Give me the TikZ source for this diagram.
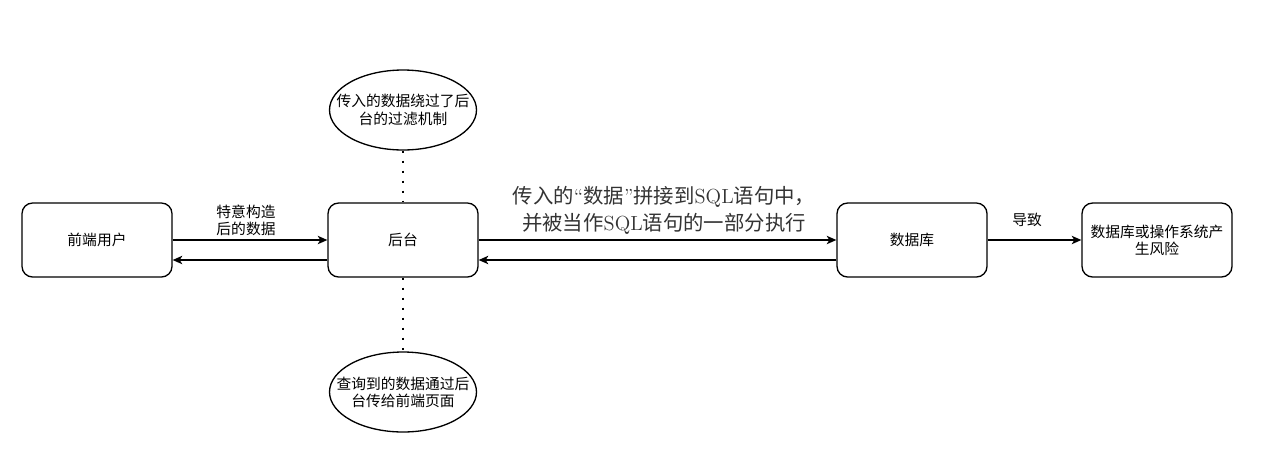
\documentclass[tikz,border=0pt]{standalone}
\usepackage{fontspec}
\newfontfamily\cjk{Noto Sans CJK SC}
\usetikzlibrary{shapes.geometric, arrows.meta}

\tikzstyle{mainblock} = [rectangle, rounded corners=6pt, minimum width=3cm, minimum height=1.48cm, text centered, align=center, draw=black, line width=0.75pt, font=\cjk\fontsize{8.4}{9.8}\selectfont]
\tikzstyle{noteblock} = [ellipse, minimum width=2.94cm, minimum height=1.6cm, inner xsep=-0.3cm, inner ysep=0pt, align=center, draw=black, line width=0.75pt, font=\cjk\fontsize{8.4}{9.8}\selectfont]
\tikzstyle{flow} = [->, >={Stealth[length=5.5pt, width=4.8pt, inset=1.5pt]}, draw=black, line width=0.75pt]
\tikzstyle{dotline} = [-, draw=black, line width=1.4pt, dash pattern=on 1.4pt off 4.3pt]
\tikzstyle{flowlabel} = [align=center, font=\cjk\fontsize{8.4}{9.8}\selectfont]

\begin{document}
\begin{tikzpicture}[x=0.02cm, y=-0.02cm]
    \useasboundingbox (0,0) rectangle (1264,464);

    \node (user) [mainblock] at (97,240) {前端用户};
    \node (server) [mainblock] at (403,240) {后台};
    \node (db) [mainblock] at (912,240) {数据库};
    \node (risk) [mainblock] at (1157,240) {数据库或操作系统产\\生风险};

    \node (bypass) [noteblock] at (403,110) {传入的数据绕过了后\\台的过滤机制};
    \node (query) [noteblock] at (403,392) {查询到的数据通过后\\台传给前端页面};

    \draw [flow] (user.east) -- (server.west);
    \draw [flow] ([yshift=-0.4cm]server.west) -- ([yshift=-0.4cm]user.east);
    \draw [flow] (server.east) -- (db.west);
    \draw [flow] ([yshift=-0.4cm]db.west) -- ([yshift=-0.4cm]server.east);
    \draw [flow] (db.east) -- (risk.west);

    \draw [dotline] (bypass.south) -- (server.north);
    \draw [dotline] (server.south) -- (query.north);

    \node (craft) [flowlabel] at (246,220) {特意构造\\后的数据};
    \node (inject) [flowlabel, text=black!80, font=\fontsize{11.6}{15.4}\selectfont] at (664,210) {\cjk 传入的\rmfamily“\cjk 数据\rmfamily”\cjk 拼接到\rmfamily SQL\cjk 语句中，\\ \cjk 并被当作\rmfamily SQL\cjk 语句的一部分执行};
    \node (cause) [flowlabel] at (1027,220) {导致};
\end{tikzpicture}
\end{document}
